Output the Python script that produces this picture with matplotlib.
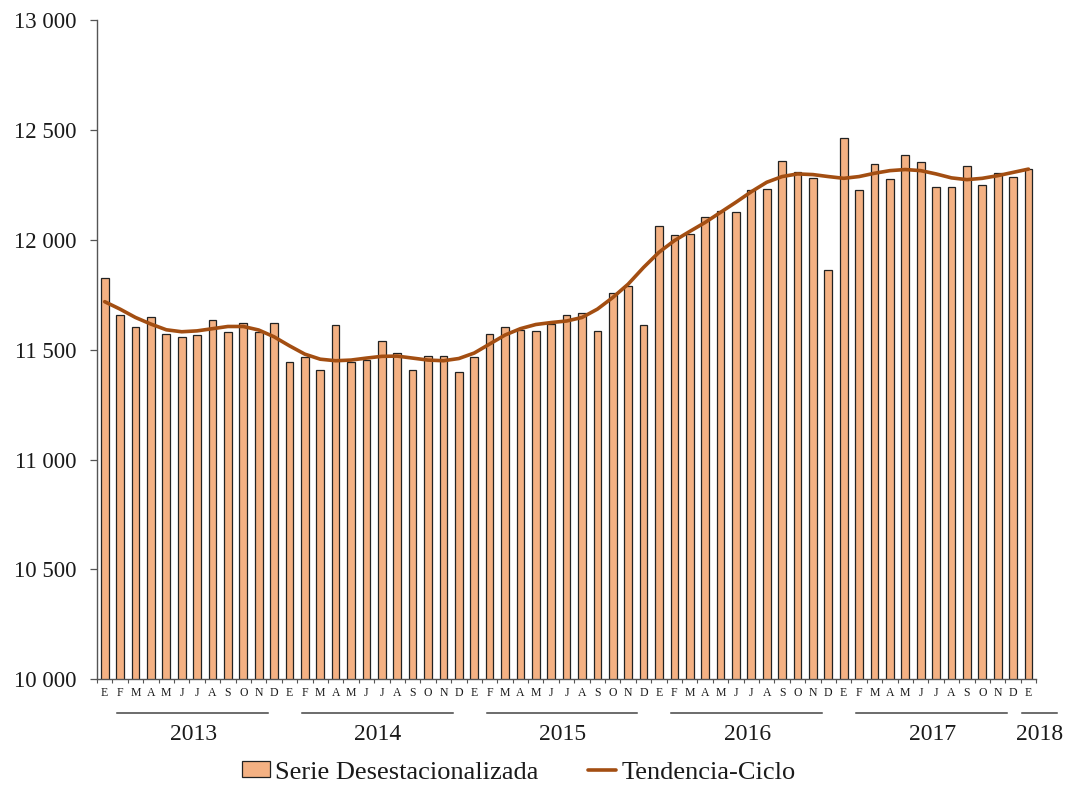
import numpy as np
import matplotlib.pyplot as plt
from matplotlib.ticker import FuncFormatter, MultipleLocator
import matplotlib.transforms as mtransforms

plt.rcParams['font.family'] = ['Liberation Serif', 'DejaVu Serif']

###### Data
months = ['E', 'F', 'M', 'A', 'M', 'J', 'J', 'A', 'S', 'O', 'N', 'D']
years = [2013, 2014, 2015, 2016, 2017, 2018]

serie_desest = [
    11825, 11658, 11605, 11650, 11570, 11556, 11565, 11634, 11579, 11624, 11582, 11624,  # 2013
    11445, 11468, 11409, 11612, 11442, 11453, 11541, 11483, 11407, 11473, 11473, 11397,  # 2014
    11465, 11571, 11605, 11590, 11587, 11617, 11658, 11667, 11587, 11758, 11790, 11612,  # 2015
    12064, 12021, 12027, 12103, 12134, 12128, 12229, 12232, 12362, 12311, 12281, 11863,  # 2016
    12463, 12228, 12346, 12280, 12389, 12357, 12243, 12243, 12336, 12252, 12304, 12286,  # 2017
    12323,                                                                               # 2018
]

tendencia_ciclo = [
    11719, 11685, 11647, 11617, 11591, 11582, 11586, 11596, 11606, 11606, 11590, 11559,  # 2013
    11518, 11480, 11457, 11450, 11453, 11462, 11470, 11471, 11462, 11453, 11450, 11460,  # 2014
    11485, 11526, 11567, 11596, 11615, 11624, 11631, 11647, 11685, 11738, 11799, 11875,  # 2015
    11944, 11997, 12039, 12080, 12126, 12172, 12220, 12263, 12289, 12301, 12298, 12289,  # 2016
    12281, 12289, 12304, 12316, 12321, 12316, 12301, 12283, 12275, 12281, 12293, 12308,  # 2017
    12323,                                                                               # 2018
]

###### Plotting options
bar_color = '#F4B183'
line_color = '#A34E12'
text_color = '#1a1a1a'

n = len(serie_desest)
x = np.arange(n)
month_labels = [months[i % 12] for i in range(n)]

fig, ax = plt.subplots(figsize=(10.66, 7.88), dpi=100)
fig.subplots_adjust(left=0.091, right=0.972, top=0.974, bottom=0.1383)

bars = ax.bar(x, serie_desest, width=0.5, color=bar_color, edgecolor='#222222', linewidth=0.9,
              label='Serie Desestacionalizada', zorder=2)
line, = ax.plot(x, tendencia_ciclo, color=line_color, linewidth=2.6, label='Tendencia-Ciclo',
                solid_capstyle='round', zorder=3)

ax.set_xlim(-0.5, n - 0.5)
ax.set_ylim(10000, 13000)
ax.yaxis.set_major_locator(MultipleLocator(500))
ax.yaxis.set_major_formatter(FuncFormatter(lambda v, p: '{:,.0f}'.format(v).replace(',', ' ')))

for side in ['top', 'right']:
    ax.spines[side].set_visible(False)
for side in ['left', 'bottom']:
    ax.spines[side].set_color('#555555')
    ax.spines[side].set_linewidth(1.0)

ax.tick_params(axis='y', direction='out', length=5, width=0.9, color='#555555',
               labelsize=16.5, pad=10, labelcolor=text_color)
ax.set_xticks(x)
ax.set_xticklabels(month_labels)
ax.set_xticks(np.arange(-0.5, n, 1.0), minor=True)
ax.tick_params(axis='x', which='major', length=0, labelsize=8.5, pad=6, labelcolor=text_color)
ax.tick_params(axis='x', which='minor', direction='out', length=3, width=0.8, color='#555555')

# year separators and labels under the month letters
trans = mtransforms.blended_transform_factory(ax.transData, ax.transAxes)
for k, yr in enumerate(years):
    i0 = 12 * k
    if yr == years[-1]:
        x0, x1, xc = i0 - 0.45, i0 + 1.85, i0 + 0.7
    else:
        x0, x1, xc = i0 + 0.8, i0 + 10.6, i0 + 5.75
    ax.plot([x0, x1], [-0.052, -0.052], transform=trans, color='#444444', linewidth=1.1,
            clip_on=False)
    ax.text(xc, -0.085, str(yr), transform=trans, ha='center', va='center',
            fontsize=17, color=text_color)

ax.legend([bars, line], ['Serie Desestacionalizada', 'Tendencia-Ciclo'],
          loc='center', bbox_to_anchor=(0.449, -0.142), ncol=2, frameon=False,
          fontsize=19, handlelength=1.05, handleheight=0.55, handletextpad=0.2,
          columnspacing=1.9, borderpad=0.0, labelcolor=text_color)

fig.savefig('out.png', dpi=100)
